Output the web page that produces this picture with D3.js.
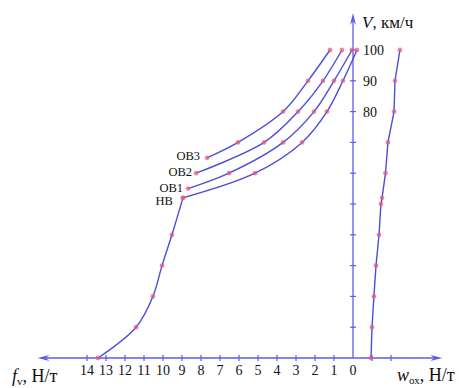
<!DOCTYPE html>
<html>
<head>
<meta charset="utf-8">
<script src="https://cdn.jsdelivr.net/npm/d3@7"></script>
<style>
  body { margin: 0; background: #fff; }
  text { font-family: "Liberation Serif", "DejaVu Serif", serif; fill: #111; }
</style>
</head>
<body>
<svg id="chart"></svg>
<script>
// скорость, км/ч и удельные силы, Н/т
var hbLowV = [0, 10, 20, 30, 40, 52];
var hbLowF = [13.42, 11.42, 10.53, 10.05, 9.53, 8.95];

var hbV = [52, 60, 70, 80, 90, 100];
var hbF = [8.95, 5.16, 2.68, 1.37, 0.53, -0.21];

var ob1V = [55, 60, 70, 80, 90, 100];
var ob1F = [8.68, 6.53, 3.68, 2.05, 1.0, 0.05];

var ob2V = [60, 70, 80, 90, 100];
var ob2F = [8.26, 4.68, 2.89, 1.58, 0.58];

var ob3V = [65, 70, 80, 90, 100];
var ob3F = [7.68, 6.05, 3.68, 2.37, 1.21];

var woxV = [0, 10, 20, 30, 40, 50, 52, 60, 70, 80, 90, 100];
var woxW = [0.95, 1.0, 1.1, 1.21, 1.37, 1.47, 1.53, 1.71, 1.84, 2.16, 2.21, 2.47];

var fTicks = [14, 13, 12, 11, 10, 9, 8, 7, 6, 5, 4, 3, 2, 1, 0];
var wTicks = [1, 2];
var vTicks = [10, 20, 30, 40, 50, 60, 70, 80, 90, 100];
var vLabels = [80, 90, 100];
var curveNames = ["ОВ3", "ОВ2", "ОВ1", "НВ"];

function run() {
  var width = 467, height = 388;
  var axisColor = "#5c5cea";
  var lineColor = "#4d4dd8";
  var dotColor = "#e4587c";

  // f_v растёт влево, w_ox вправо, общий ноль
  var xF = d3.scaleLinear().domain([0, 14]).range([353, 87]);
  var xW = d3.scaleLinear().domain([0, 2]).range([353, 391]);
  var y = d3.scaleLinear().domain([0, 100]).range([358, 50]);

  var svg = d3.select("#chart").attr("width", width).attr("height", height);

  // оси
  var x0 = xF(0), y0 = y(0);
  var xLeft = xF(16.6), xRight = xW(4.7), yTop = y(112);

  svg.append("line")
    .attr("x1", xLeft + 4).attr("x2", xRight - 4)
    .attr("y1", y0).attr("y2", y0)
    .attr("stroke", axisColor).attr("stroke-width", 1.3);
  svg.append("line")
    .attr("x1", x0).attr("x2", x0)
    .attr("y1", y0).attr("y2", yTop + 4)
    .attr("stroke", axisColor).attr("stroke-width", 1.3);

  // стрелки
  var arrows = [
    [[xLeft, y0], [xLeft + 12, y0 - 3], [xLeft + 8, y0], [xLeft + 12, y0 + 3]],
    [[xRight, y0], [xRight - 12, y0 - 3], [xRight - 8, y0], [xRight - 12, y0 + 3]],
    [[x0, yTop], [x0 - 3, yTop + 12], [x0, yTop + 8], [x0 + 3, yTop + 12]]
  ];
  svg.selectAll(".arrow").data(arrows).enter()
    .append("path").attr("class", "arrow")
    .attr("d", function (d) { return "M" + d.join("L") + "Z"; })
    .attr("fill", axisColor);

  // деления по горизонтали
  svg.selectAll(".ftick").data(fTicks.filter(function (d) { return d > 0; })).enter()
    .append("line").attr("class", "ftick")
    .attr("x1", function (d) { return xF(d); }).attr("x2", function (d) { return xF(d); })
    .attr("y1", y0 - 3).attr("y2", y0 + 3)
    .attr("stroke", axisColor).attr("stroke-width", 1.2);
  svg.selectAll(".wtick").data(wTicks).enter()
    .append("line").attr("class", "wtick")
    .attr("x1", function (d) { return xW(d); }).attr("x2", function (d) { return xW(d); })
    .attr("y1", y0 - 3).attr("y2", y0 + 3)
    .attr("stroke", axisColor).attr("stroke-width", 1.2);

  svg.selectAll(".flabel").data(fTicks).enter()
    .append("text").attr("class", "flabel")
    .attr("x", function (d) { return xF(d); })
    .attr("y", y0 + 17)
    .attr("text-anchor", "middle")
    .style("font-size", "14px")
    .text(function (d) { return d; });

  // деления по вертикали
  svg.selectAll(".vtick").data(vTicks).enter()
    .append("line").attr("class", "vtick")
    .attr("x1", x0 - 3).attr("x2", x0 + 3)
    .attr("y1", function (d) { return y(d); }).attr("y2", function (d) { return y(d); })
    .attr("stroke", axisColor).attr("stroke-width", 1.2);

  svg.selectAll(".vlabel").data(vLabels).enter()
    .append("text").attr("class", "vlabel")
    .attr("x", x0 + 10)
    .attr("y", function (d) { return y(d) + 5; })
    .style("font-size", "14px")
    .text(function (d) { return d; });

  // подписи осей
  var vt = svg.append("text").attr("x", 362).attr("y", 28).style("font-size", "17px");
  vt.append("tspan").style("font-style", "italic").text("V");
  vt.append("tspan").text(", км/ч");

  var ft = svg.append("text").attr("x", 12).attr("y", 382).style("font-size", "18px");
  ft.append("tspan").style("font-style", "italic").text("f");
  ft.append("tspan").attr("dy", 3).style("font-size", "11px").text("v");
  ft.append("tspan").attr("dy", -3).text(", Н/т");

  var wt = svg.append("text").attr("x", 397).attr("y", 381).style("font-size", "18px");
  wt.append("tspan").style("font-style", "italic").text("w");
  wt.append("tspan").attr("dy", 3).style("font-size", "11px").text("ох");
  wt.append("tspan").attr("dy", -3).text(", Н/т");

  // кривые
  function zipF(vs, fs) { return vs.map(function (v, i) { return [xF(fs[i]), y(v)]; }); }
  var series = [
    { pts: zipF(hbLowV, hbLowF), curve: d3.curveCatmullRom },
    { pts: zipF(hbV, hbF), curve: d3.curveCatmullRom },
    { pts: zipF(ob1V, ob1F), curve: d3.curveCatmullRom },
    { pts: zipF(ob2V, ob2F), curve: d3.curveCatmullRom },
    { pts: zipF(ob3V, ob3F), curve: d3.curveCatmullRom },
    { pts: woxV.map(function (v, i) { return [xW(woxW[i]), y(v)]; }), curve: d3.curveLinear }
  ];

  svg.selectAll(".curve").data(series).enter()
    .append("path").attr("class", "curve")
    .attr("d", function (d) { return d3.line().curve(d.curve)(d.pts); })
    .attr("fill", "none")
    .attr("stroke", lineColor)
    .attr("stroke-width", 1.4);

  var allPts = [];
  series.forEach(function (s) { allPts = allPts.concat(s.pts); });
  svg.selectAll(".dot").data(allPts).enter()
    .append("circle").attr("class", "dot")
    .attr("cx", function (d) { return d[0]; })
    .attr("cy", function (d) { return d[1]; })
    .attr("r", 2.4)
    .attr("fill", dotColor)
    .attr("fill-opacity", 0.7);

  // подписи кривых
  var starts = [series[4].pts[0], series[3].pts[0], series[2].pts[0], series[1].pts[0]];
  var offs = [[-7, 2], [-4, 3], [-5, 3], [-10, 7]];
  svg.selectAll(".cname").data(curveNames).enter()
    .append("text").attr("class", "cname")
    .attr("x", function (d, i) { return starts[i][0] + offs[i][0]; })
    .attr("y", function (d, i) { return starts[i][1] + offs[i][1]; })
    .attr("text-anchor", "end")
    .style("font-size", "12.5px")
    .text(function (d) { return d; });
}

run();
</script>
</body>
</html>
